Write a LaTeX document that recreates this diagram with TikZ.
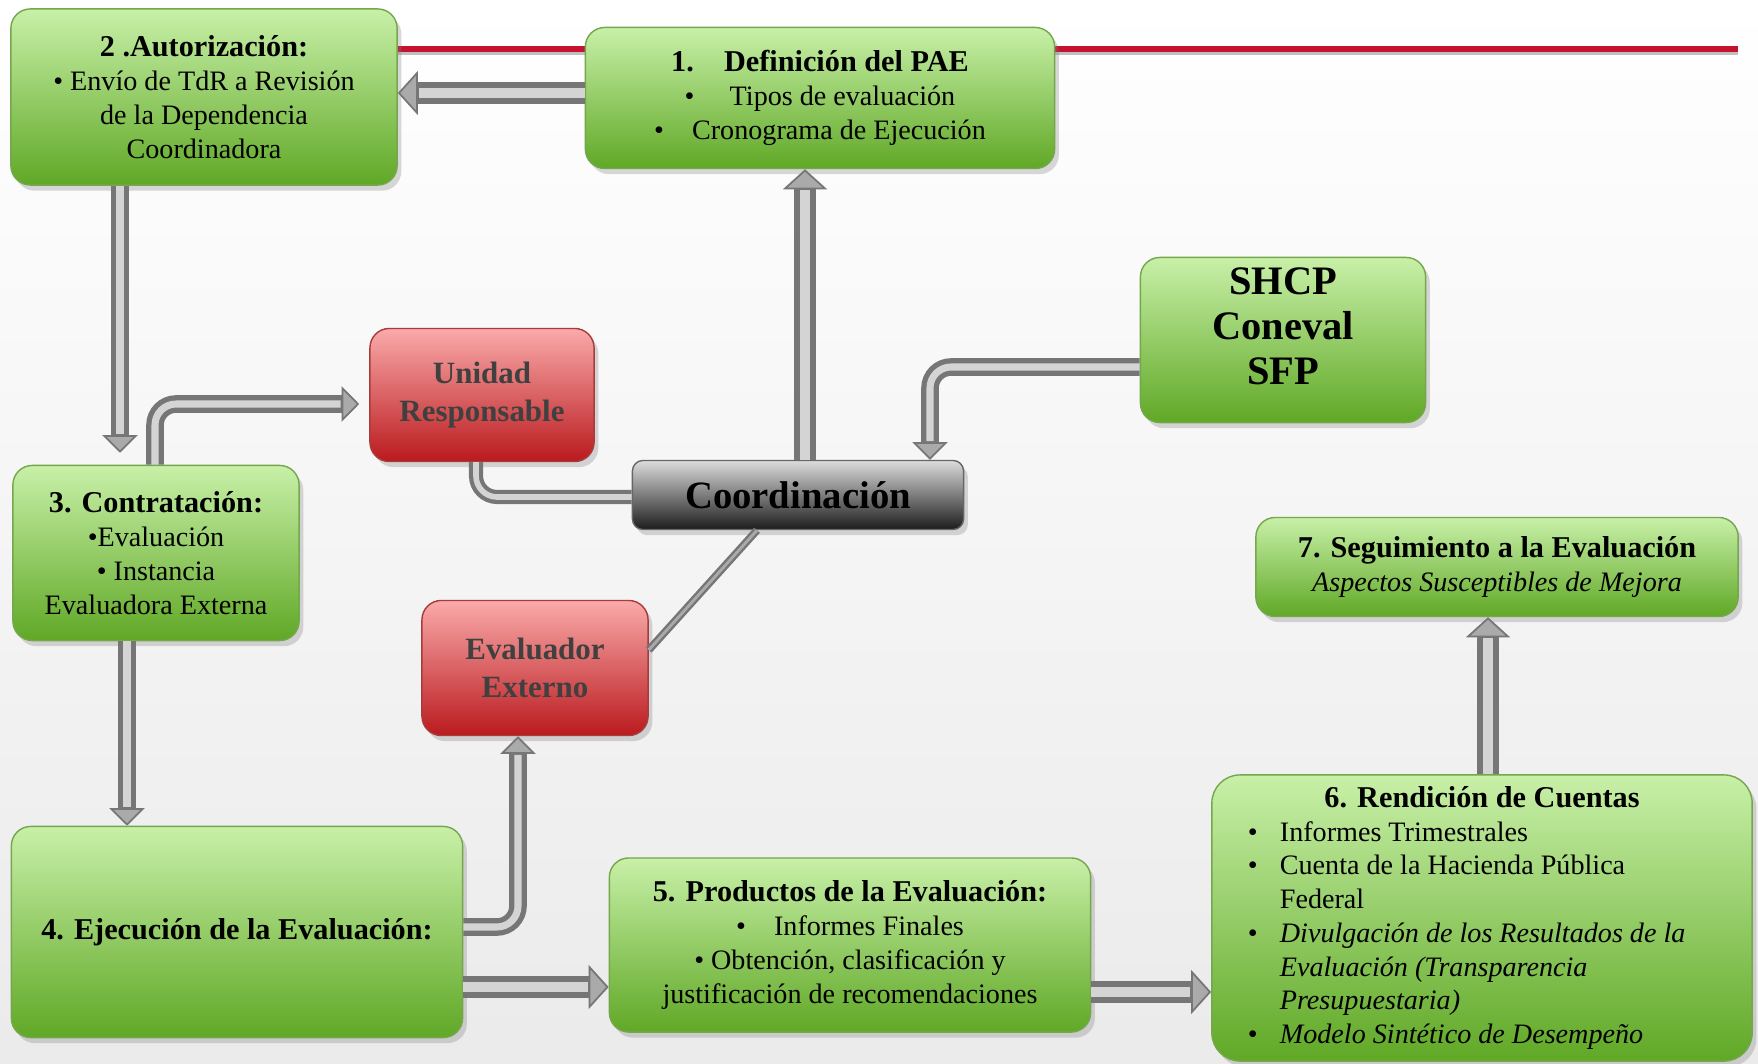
\documentclass[tikz,border=0pt]{standalone}
\usepackage{fontspec}
\setmainfont{Liberation Serif}
\usetikzlibrary{arrows.meta, shadows, backgrounds, calc}
\definecolor{gtop}{RGB}{200,240,168}
\definecolor{gbot}{RGB}{96,168,38}
\definecolor{gline}{RGB}{118,166,78}
\definecolor{rtop}{RGB}{250,170,170}
\definecolor{rbot}{RGB}{186,26,30}
\definecolor{rline}{RGB}{168,60,60}
\definecolor{ctop}{RGB}{220,220,220}
\definecolor{cbot}{RGB}{28,28,28}
\definecolor{crimson}{RGB}{196,18,48}
\definecolor{tubedark}{RGB}{118,118,118}
\definecolor{tubemid}{RGB}{170,170,170}
\definecolor{tubelite}{RGB}{212,212,212}
\newcommand{\ttl}{\fontsize{8.6}{9.6}\selectfont\bfseries}
\newcommand{\itm}{\makebox[0.32cm][l]{\textbullet}}

\begin{document}
\begin{tikzpicture}[
    x=0.01cm, y=-0.01cm,
    font=\fontsize{8}{9.6}\selectfont,
    gbox/.style={rectangle, draw=gline, line width=0.4pt, rounded corners=5.5pt,
                 top color=gtop, bottom color=gbot, align=center, inner sep=2pt,
                 drop shadow={shadow xshift=1.2pt, shadow yshift=-1.6pt, opacity=0.3}},
    rbox/.style={rectangle, draw=rline, line width=0.4pt, rounded corners=5.5pt,
                 top color=rtop, bottom color=rbot, align=center, text=black!75,
                 font=\fontsize{8.8}{10.8}\selectfont\bfseries,
                 drop shadow={shadow xshift=1.2pt, shadow yshift=-1.6pt, opacity=0.3}},
    cbox/.style={rectangle, draw=black!60, line width=0.4pt, rounded corners=3pt,
                 top color=ctop, bottom color=cbot, align=center,
                 font=\fontsize{11}{12}\selectfont\bfseries,
                 drop shadow={shadow xshift=1.2pt, shadow yshift=-1.6pt, opacity=0.3}},
    a/.style={line width=6.3pt, draw=tubedark,
              -{Triangle[length=5.7pt, width=12.5pt, color=tubedark, fill=tubemid, line width=0.5pt]},
              postaction={draw=tubelite, line width=2.6pt, arrows=-, shorten >=6pt}},
    sa/.style={line width=5pt, draw=tubedark, rounded corners=6pt,
               -{Triangle[length=5pt, width=10pt, color=tubedark, fill=tubemid, line width=0.5pt]},
               postaction={draw=tubelite, line width=2pt, arrows=-, shorten >=5.3pt}},
    tube/.style={line width=4pt, draw=tubedark, rounded corners=6pt,
                 postaction={draw=tubelite, line width=1.6pt}},
    thin/.style={line width=2.2pt, draw=tubedark, postaction={draw=tubemid, line width=0.8pt}}
]
\useasboundingbox (0,0) rectangle (1758,1064);

\node[gbox, minimum width=3.86cm, minimum height=1.76cm] (b2) at (204,97)
    {{\ttl 2 .Autorización:}\\
     \textbullet\ Envío de TdR a Revisión\\
     de la Dependencia\\
     Coordinadora};

\node[gbox, minimum width=4.69cm, minimum height=1.41cm] (b1) at (820,98)
    {{\ttl 1.\quad Definición del PAE}\\
     \textbullet\hspace{10pt}Tipos de evaluación\\
     \textbullet\hspace{8pt}Cronograma de Ejecución};

\node[gbox, minimum width=2.86cm, minimum height=1.75cm] (b3) at (156,553)
    {{\ttl 3. Contratación:}\\
     \textbullet Evaluación\\
     \textbullet\ Instancia\\
     Evaluadora Externa};

\node[rbox, minimum width=2.24cm, minimum height=1.33cm] (ur) at (482,395)
    {Unidad\\Responsable};

\node[cbox, minimum width=3.31cm, minimum height=0.69cm] (coord) at (798,495)
    {Coordinación};

\node[gbox, minimum width=2.85cm, minimum height=1.65cm,
      font=\fontsize{11.5}{12.8}\selectfont\bfseries] (shcp) at (1283,340)
    {SHCP\\Coneval\\SFP\\[-5pt]};

\node[rbox, minimum width=2.26cm, minimum height=1.35cm] (ee) at (535,668)
    {Evaluador\\Externo};

\node[gbox, minimum width=4.51cm, minimum height=2.11cm] (b4) at (237,932)
    {{\ttl 4. Ejecución de la Evaluación:}};

\node[gbox, minimum width=4.81cm, minimum height=1.74cm] (b5) at (850,945)
    {{\ttl 5. Productos de la Evaluación:}\\
     \textbullet\hspace{8pt}Informes Finales\\
     \textbullet\ Obtención, clasificación y\\
     justificación de recomendaciones};

\node[gbox, minimum width=5.40cm, minimum height=2.86cm, rounded corners=8pt,
      align=left] (b6) at (1482,918)
    {\makebox[4.68cm][c]{\ttl 6. Rendición de Cuentas}\\
     \itm Informes Trimestrales\\
     \itm Cuenta de la Hacienda Pública\\
     \hspace*{0.32cm}Federal\\
     \itm\textit{Divulgación de los Resultados de la}\\
     \hspace*{0.32cm}\textit{Evaluación (Transparencia}\\
     \hspace*{0.32cm}\textit{Presupuestaria)}\\
     \itm\textit{Modelo Sintético de Desempeño}};

\node[gbox, minimum width=4.82cm, minimum height=0.99cm] (b7) at (1497,567)
    {{\ttl 7. Seguimiento a la Evaluación}\\
     \textit{Aspectos Susceptibles de Mejora}};

\coordinate (redend) at (1738,49);

\begin{scope}[on background layer]
\fill[top color=white, bottom color=black!8] (0,0) rectangle (1758,1064);
\draw[black!25, line width=1.4pt] (b2.east |- 0,53) -- (redend |- 0,53);
\draw[crimson, line width=1.5pt] (b2.east |- 0,49) -- (redend);
\end{scope}

\draw[a] (b1.west |- 0,93) -- (b2.east |- 0,93);
\draw[sa] (b2.south -| 120,0) -- ($(b3.north -| 120,0)+(0,-12)$);
\draw[sa] (b3.north -| 155,0) |- ($(ur.west |- 0,404)+(-10,0)$);
\draw[tube] (ur.south -| 476,0) |- (coord.west |- 0,497);
\draw[a] (coord.north -| 805,0) -- (b1.south -| 805,0);
\draw[sa] (shcp.west |- 0,367) -| (coord.north -| 930,0);
\draw[thin] (ee.east |- 0,650) -- (coord.south -| 757,0);
\draw[sa] (b3.south -| 127,0) -- (b4.north -| 127,0);
\draw[sa] (b4.east |- 0,927) -| (ee.south -| 518,0);
\draw[a] (b4.east |- 0,987) -- (b5.west |- 0,987);
\draw[a] (b5.east |- 0,992) -- (b6.west |- 0,992);
\draw[a] (b6.north -| 1488,0) -- (b7.south -| 1488,0);
\end{tikzpicture}
\end{document}
